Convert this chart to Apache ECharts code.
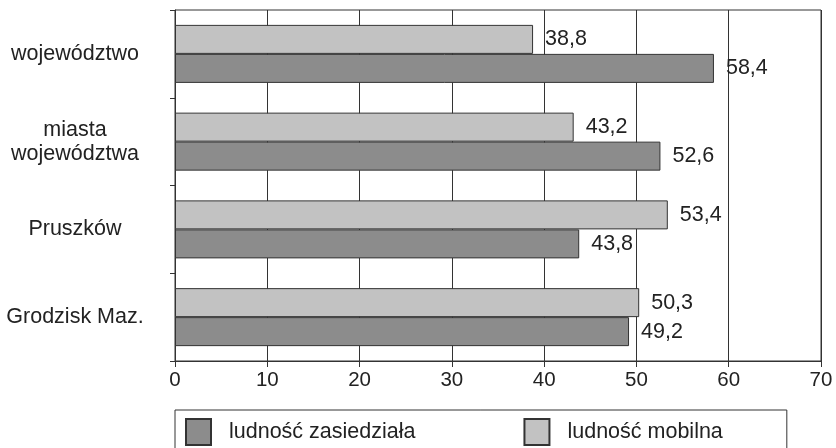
<!DOCTYPE html>
<html><head><meta charset="utf-8">
<script src="https://cdn.jsdelivr.net/npm/echarts@6/dist/echarts.min.js"></script>
<style>html,body{margin:0;padding:0;background:#fff}#c{width:836px;height:448px}</style>
</head><body><div id="c"></div>
<script>
const categories = ['województwo', 'miasta\nwojewództwa', 'Pruszków', 'Grodzisk Maz.'];
const zasiedziala = [58.4, 52.6, 43.8, 49.2];
const mobilna = [38.8, 43.2, 53.4, 50.3];
const xTicks = [0, 10, 20, 30, 40, 50, 60, 70];

const FONT = '"Liberation Sans", Arial, sans-serif';
const chart = echarts.init(document.getElementById('c'));
const lbl = {
  show: true, position: 'right', distance: 12, fontSize: 21.5, color: '#222', fontFamily: FONT,
  formatter: p => String(p.value.toFixed(1)).replace('.', ',')
};
chart.setOption({
  animation: false,
  backgroundColor: '#fff',
  textStyle: { fontFamily: FONT },
  grid: { left: 175, right: 15, top: 10, bottom: 87, show: true, borderColor: '#333', borderWidth: 1 },
  xAxis: {
    type: 'value', min: xTicks[0], max: xTicks[xTicks.length - 1], interval: 10,
    axisLine: { show: true, lineStyle: { color: '#333', width: 1 } },
    axisTick: { show: true, length: 6, lineStyle: { color: '#333' } },
    axisLabel: { fontSize: 20.5, color: '#222', margin: 9, fontFamily: FONT },
    splitLine: { show: true, lineStyle: { color: '#333', width: 1 } }
  },
  yAxis: {
    type: 'category', data: categories, inverse: true,
    axisLine: { show: true, lineStyle: { color: '#333', width: 1 } },
    axisTick: { show: true, length: 5, lineStyle: { color: '#333' } },
    axisLabel: { fontSize: 21.5, color: '#222', align: 'center', margin: 100, lineHeight: 24, fontFamily: FONT },
    splitLine: { show: false }
  },
  legend: {
    data: ['ludność zasiedziała', 'ludność mobilna'],
    left: 175, top: 410,
    padding: [8, 64, 20, 10],
    borderColor: '#333', borderWidth: 1,
    itemWidth: 25, itemHeight: 26, itemGap: 108,
    icon: 'rect',
    textStyle: { fontSize: 21.5, color: '#222', fontFamily: FONT, padding: [0, 0, 0, 13] }
  },
  series: [
    {
      name: 'ludność mobilna', type: 'bar', data: mobilna,
      barWidth: 29, barGap: '0%',
      itemStyle: { color: '#c2c2c2', borderColor: '#333', borderWidth: 1 },
      label: lbl
    },
    {
      name: 'ludność zasiedziała', type: 'bar', data: zasiedziala,
      barWidth: 29, barGap: '0%',
      itemStyle: { color: '#8c8c8c', borderColor: '#333', borderWidth: 1 },
      label: lbl
    }
  ]
});
</script></body></html>
